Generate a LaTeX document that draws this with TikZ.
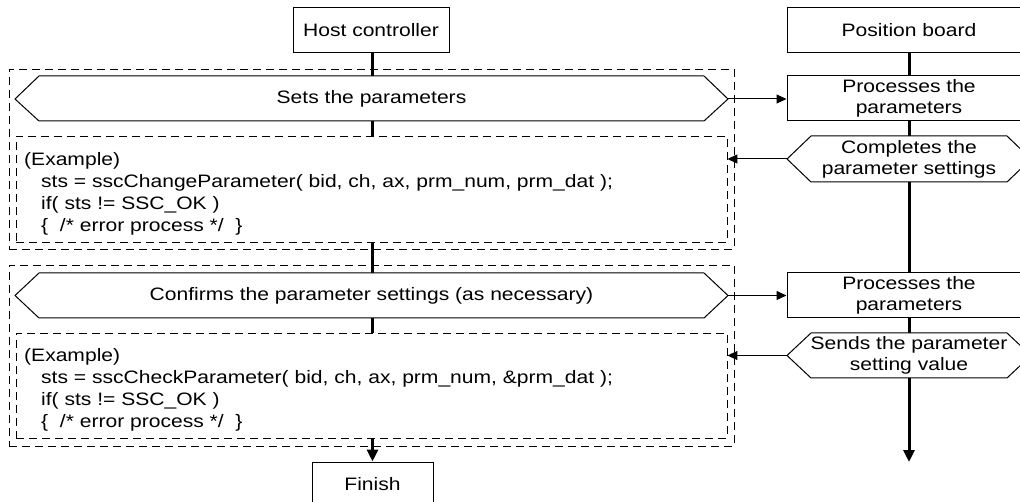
\documentclass[tikz,border=0pt]{standalone}
\usepackage{fontspec}
\setmainfont{Liberation Sans}[FakeStretch=1.17]
\usetikzlibrary{arrows.meta}
\begin{document}
\begin{tikzpicture}[x=1pt,y=-1pt,
  every node/.style={font=\fontsize{18}{21}\selectfont},
  box/.style={draw,line width=1pt,fill=white,inner sep=0pt},
  hexa/.style={draw,line width=1pt,fill=white,line join=miter},
  grp/.style={draw,line width=0.8pt,dash pattern=on 8pt off 5pt},
  codebox/.style={draw,line width=0.8pt,dash pattern=on 8pt off 5pt,fill=white,inner sep=0pt},
  code/.style={anchor=north west,align=left,inner sep=0pt,font=\fontsize{18}{22}\selectfont},
  lane/.style={line width=3pt},
  lanearrow/.style={line width=3pt,-{Triangle[length=12pt,width=11pt]}},
  flow/.style={line width=1pt,-{Triangle[length=10pt,width=9pt]}}
]
\useasboundingbox (0,0) rectangle (1020,502);
\clip (0,0) rectangle (1020,502);

% lane end point
\coordinate (posend) at (909,462);

% Boxes
\node[box,minimum width=156pt,minimum height=45pt] (host) at (371,30.5) {Host controller};
\node[box,minimum width=244pt,minimum height=45pt] (pos) at (909,30.5) {Position board};
\node[box,minimum width=121pt,minimum height=45pt] (finish) at (372.5,484.5) {Finish};

% lanes (drawn first, covered by filled shapes)
\draw[lanearrow] (host.south -| finish.north) -- (finish.north);
\draw[lanearrow] (pos.south) -- (posend);

% group frames
\node[grp,minimum width=725pt,minimum height=180pt,inner sep=0pt] (g1) at (371.5,159) {};
\node[grp,minimum width=725pt,minimum height=181pt,inner sep=0pt] (g2) at (371.5,355.5) {};

% group 1
\draw[hexa] (15,99) -- (39,76) -- (704,76) -- (728,99) -- (704,121) -- (39,121) -- cycle;
\coordinate (s1e) at (728,99);
\node (s1) at (371.5,98.5) {Sets the parameters};
\node[codebox,minimum width=711pt,minimum height=106pt] (c1) at (371.5,189) {};
\node[code] (c1t) at (24,152) {(Example)\\
\hspace*{17pt}sts = sscChangeParameter( bid, ch, ax, prm\_num, prm\_dat );\\
\hspace*{17pt}if( sts != SSC\_OK )\\
\hspace*{17pt}\{\ \ /* error process */\ \ \}};

\node[box,minimum width=244pt,minimum height=45pt,align=center] (p1) at (909,98.5) {Processes the\\parameters};
\draw[hexa] (787,159) -- (811,136) -- (1007,136) -- (1031,159) -- (1007,182) -- (811,182) -- cycle;
\coordinate (r1w) at (787,159);
\node[align=center] (r1) at (909,159) {Completes the\\parameter settings};

% group 2
\draw[hexa] (15,295.5) -- (39,273) -- (704,273) -- (728,295.5) -- (704,318) -- (39,318) -- cycle;
\coordinate (s2e) at (728,295.5);
\node (s2) at (371.5,295.5) {Confirms the parameter settings (as necessary)};
\node[codebox,minimum width=711pt,minimum height=105pt] (c2) at (371.5,385.5) {};
\node[code] (c2t) at (24,348) {(Example)\\
\hspace*{17pt}sts = sscCheckParameter( bid, ch, ax, prm\_num, \&prm\_dat );\\
\hspace*{17pt}if( sts != SSC\_OK )\\
\hspace*{17pt}\{\ \ /* error process */\ \ \}};

\node[box,minimum width=244pt,minimum height=45pt,align=center] (p2) at (909,295.5) {Processes the\\parameters};
\draw[hexa] (787,355.5) -- (811,333) -- (1007,333) -- (1031,355.5) -- (1007,378) -- (811,378) -- cycle;
\coordinate (r2w) at (787,355.5);
\node[align=center] (r2) at (909,355.5) {Sends the parameter\\setting value};

% flows
\draw[flow] (s1e) -- (s1e -| p1.west);
\draw[flow] (r1w) -- (r1w -| c1.east);
\draw[flow] (s2e) -- (s2e -| p2.west);
\draw[flow] (r2w) -- (r2w -| c2.east);
\end{tikzpicture}
\end{document}
